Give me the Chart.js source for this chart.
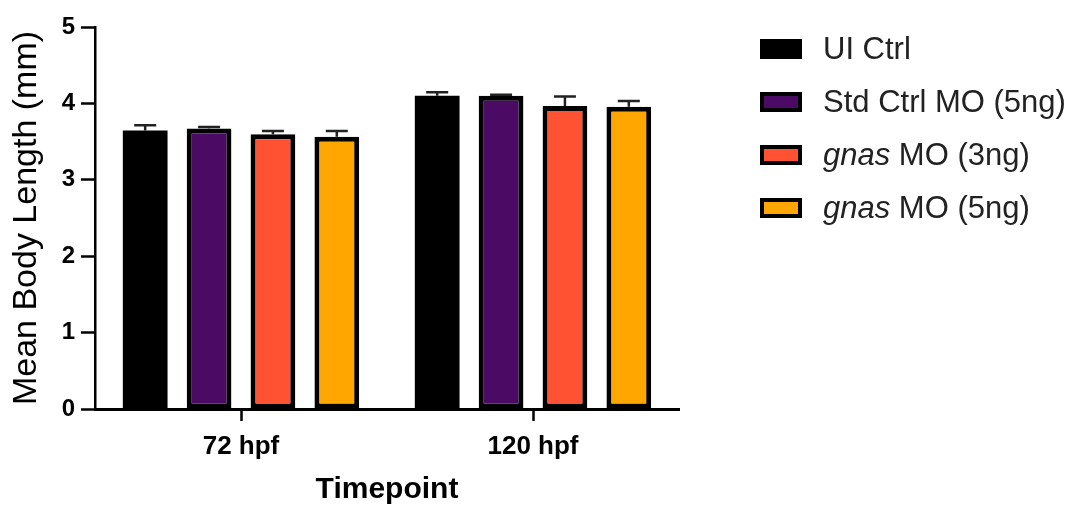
<!DOCTYPE html>
<html>
<head>
<meta charset="utf-8">
<script src="https://cdn.jsdelivr.net/npm/chart.js@4.4.1/dist/chart.umd.min.js"></script>
<style>
  html, body { margin: 0; padding: 0; background: #fff; }
  #wrap { position: relative; width: 1080px; height: 509px; }
  #legend { position: absolute; left: 760px; top: 22px; font-family: "Liberation Sans", Arial, sans-serif; font-size: 31px; color: #222; }
  .item { display: flex; align-items: center; height: 53px; white-space: nowrap; }
  .box { width: 42px; height: 20px; box-sizing: border-box; border: 4px solid #000; margin-right: 21px; flex: none; }
</style>
</head>
<body>
<div id="wrap">
  <canvas id="myChart" width="1080" height="509"></canvas>
  <div id="legend"></div>
</div>
<script>
// data
const timepoints = ['72 hpf', '120 hpf'];
const groupNames = ['UI Ctrl', 'Std Ctrl MO (5ng)', 'gnas MO (3ng)', 'gnas MO (5ng)'];
const groupColors = ['#000000', '#4B0A63', '#FF5233', '#FFA600'];
const uiCtrl = [3.645, 4.10];
const stdCtrl = [3.67, 4.10];
const gnas3 = [3.595, 3.965];
const gnas5 = [3.565, 3.955];
const uiCtrlErr = [0.07, 0.045];
const stdCtrlErr = [0.02, 0.012];
const gnas3Err = [0.045, 0.125];
const gnas5Err = [0.075, 0.075];
const yTicks = [0, 1, 2, 3, 4, 5];

const means = [uiCtrl, stdCtrl, gnas3, gnas5];
const errs = [uiCtrlErr, stdCtrlErr, gnas3Err, gnas5Err];

// html legend so "gnas" can be italic
const legend = document.getElementById('legend');
groupNames.forEach((name, i) => {
  const item = document.createElement('div');
  item.className = 'item';
  item.innerHTML = `<span class="box" style="background:${groupColors[i]}"></span><span>${name.replace('gnas', '<i>gnas</i>')}</span>`;
  legend.appendChild(item);
});

// upper error bars only, like the original
const errorBars = {
  id: 'errorBars',
  afterDatasetsDraw(chart) {
    const ctx = chart.ctx;
    const y = chart.scales.y;
    ctx.save();
    ctx.strokeStyle = '#222';
    ctx.lineWidth = 2.5;
    chart.data.datasets.forEach((ds, i) => {
      chart.getDatasetMeta(i).data.forEach((bar, j) => {
        const top = y.getPixelForValue(ds.data[j] + errs[i][j]);
        ctx.beginPath();
        ctx.moveTo(bar.x, bar.y);
        ctx.lineTo(bar.x, top);
        ctx.moveTo(bar.x - 11, top);
        ctx.lineTo(bar.x + 11, top);
        ctx.stroke();
      });
    });
    ctx.restore();
  }
};

const ctx = document.getElementById('myChart').getContext('2d');
new Chart(ctx, {
  type: 'bar',
  data: {
    labels: timepoints,
    datasets: groupNames.map((name, i) => ({
      label: name,
      data: means[i],
      backgroundColor: groupColors[i],
      borderColor: '#000',
      borderWidth: i === 0 ? 0 : 5,
      borderSkipped: false,
      categoryPercentage: 0.875,
      barPercentage: 0.7,
    })),
  },
  options: {
    responsive: false,
    animation: false,
    layout: { padding: { top: 27, right: 401, left: 0, bottom: 0 } },
    plugins: { legend: { display: false }, tooltip: { enabled: false } },
    scales: {
      x: {
        afterFit: (scale) => { scale.height = 100; },
        grid: { display: true, drawOnChartArea: false, drawTicks: true, tickLength: 12, tickWidth: 2.5, tickColor: '#000', offset: false },
        border: { display: true, color: '#000', width: 3 },
        ticks: { color: '#000', padding: 10, font: { family: 'Liberation Sans', size: 26, weight: 'bold' } },
        title: { display: true, text: 'Timepoint', color: '#000', padding: { top: 0, bottom: 4 }, font: { family: 'Liberation Sans', size: 30, weight: 'bold', lineHeight: 1 } },
      },
      y: {
        min: 0,
        max: 5,
        afterFit: (scale) => { scale.width = 95; },
        afterBuildTicks: (scale) => { scale.ticks = yTicks.map(v => ({ value: v })); },
        grid: { display: true, drawOnChartArea: false, drawTicks: true, tickLength: 14, tickWidth: 2.5, tickColor: '#000' },
        border: { display: true, color: '#000', width: 2.5 },
        ticks: { color: '#000', padding: 6, font: { family: 'Liberation Sans', size: 24, weight: 'bold' } },
        title: { display: true, text: 'Mean Body Length (mm)', color: '#000', padding: { top: 10, bottom: 0 }, font: { family: 'Liberation Sans', size: 34, lineHeight: 1 } },
      },
    },
  },
  plugins: [errorBars],
});
</script>
</body>
</html>
